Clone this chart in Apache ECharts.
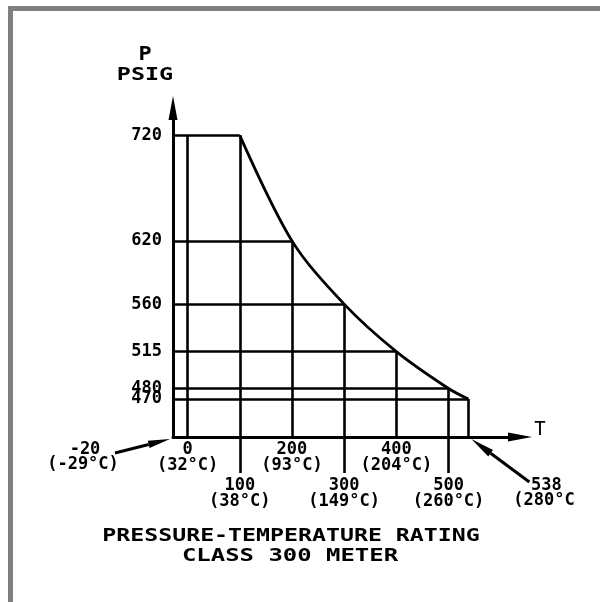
<!DOCTYPE html>
<html><head><meta charset="utf-8">
<script src="https://cdn.jsdelivr.net/npm/echarts@6/dist/echarts.min.js"></script>
<style>html,body{margin:0;padding:0;background:#fff}#c{width:600px;height:602px}</style>
</head><body><div id="c"></div>
<script>
// ---- data ----
const tempF = [0, 100, 200, 300, 400, 500];
const tempC = ['32°C', '38°C', '93°C', '149°C', '204°C', '260°C'];
const ratingT = [100, 200, 300, 400, 500, 538];
const ratingP = [720, 620, 560, 515, 480, 470];
const flatT = [0, 100];           // constant 720 psig region
const minTempF = -20, minTempC = '(-29°C)';
const maxTempF = 538, maxTempC = '(280°C';
const titleLines = ['PRESSURE-TEMPERATURE RATING', 'CLASS 300 METER'];
const yName = ['P', 'PSIG'];
const xName = 'T';

// ---- axis ranges (layout) ----
const X_MIN = -28, X_MAX = 637, Y_MIN = 434, Y_MAX = 746;
const FONT = '"DejaVu Sans Mono", monospace';
const INK = '#000';
const WEIGHT = 'bold';

const evenT = tempF.filter((t, i) => i % 2 === 0);
const oddT = tempF.filter((t, i) => i % 2 === 1);
const evenP = ratingP.filter((p, i) => i % 2 === 0);
const oddP = ratingP.filter((p, i) => i % 2 === 1);

const chart = echarts.init(document.getElementById('c'), null, {renderer: 'canvas'});

const segs = [];
ratingT.forEach((t, i) => {
  segs.push({coords: [[X_MIN, ratingP[i]], [t, ratingP[i]]]});
  segs.push({coords: [[t, Y_MIN], [t, ratingP[i]]]});
});
segs.push({coords: [[flatT[0], Y_MIN], [flatT[0], ratingP[0]]]});

const lab = {fontSize: 17, fontFamily: FONT, fontWeight: WEIGHT, color: INK, lineHeight: 16};
const fmt = (v) => { const i = tempF.indexOf(v); return '{a|' + v + '}\n{a|(' + tempC[i] + ')}'; };
const baseX = {type: 'value', min: X_MIN, max: X_MAX, splitLine: {show: false}, position: 'bottom'};
const baseY = {type: 'value', min: Y_MIN, max: Y_MAX, splitLine: {show: false}, position: 'left', axisTick: {show: false}};
const yLab = {margin: 11, fontSize: 17, fontFamily: FONT, fontWeight: WEIGHT, color: INK, showMinLabel: true, showMaxLabel: true};
chart.setOption({
  animation: false,
  backgroundColor: '#fff',
  grid: {left: 173, right: 80, top: 108, bottom: 165, containLabel: false},
  xAxis: [
    Object.assign({}, baseX, {
      axisLine: {onZero: false, lineStyle: {color: INK, width: 3}, symbol: ['none', 'triangle'], symbolSize: [9, 24]},
      axisTick: {show: false},
      axisLabel: {customValues: evenT, margin: 5, color: INK, showMinLabel: true, showMaxLabel: true,
        formatter: fmt, rich: {a: lab}}
    }),
    Object.assign({}, baseX, {
      axisLine: {show: false, onZero: false},
      axisTick: {show: true, customValues: oddT, length: 36, inside: false, lineStyle: {color: INK, width: 2.6}},
      axisLabel: {customValues: oddT, margin: 41, color: INK, showMinLabel: true, showMaxLabel: true,
        formatter: fmt, rich: {a: lab}}
    })
  ],
  yAxis: [
    Object.assign({}, baseY, {
      axisLine: {onZero: false, lineStyle: {color: INK, width: 3}, symbol: ['none', 'triangle'], symbolSize: [9, 24]},
      axisLabel: Object.assign({customValues: evenP}, yLab)
    }),
    Object.assign({}, baseY, {
      axisLine: {show: false, onZero: false},
      axisLabel: Object.assign({customValues: oddP}, yLab)
    })
  ],
  series: [
    {
      type: 'lines', coordinateSystem: 'cartesian2d', xAxisIndex: 0, yAxisIndex: 0, silent: true, z: 3,
      lineStyle: {color: INK, width: 2.6, opacity: 1, curveness: 0},
      data: segs
    },
    {
      type: 'line', xAxisIndex: 0, yAxisIndex: 0, silent: true, symbol: 'none', smooth: 0.33, z: 4,
      lineStyle: {color: INK, width: 2.8},
      data: ratingT.map((t, i) => [t, ratingP[i]])
    }
  ]
});

const O = chart.convertToPixel({gridIndex: 0}, [X_MIN, Y_MIN]);
const E = chart.convertToPixel({gridIndex: 0}, [maxTempF, Y_MIN]);
const XE = chart.convertToPixel({gridIndex: 0}, [X_MAX, Y_MIN]);
const YE = chart.convertToPixel({gridIndex: 0}, [X_MIN, Y_MAX]);

function arrow(tail, tip, len, hw) {
  const dx = tip[0] - tail[0], dy = tip[1] - tail[1];
  const d = Math.hypot(dx, dy), ux = dx / d, uy = dy / d;
  const bx = tip[0] - ux * len, by = tip[1] - uy * len;
  return [
    {type: 'line', silent: true, shape: {x1: tail[0], y1: tail[1], x2: bx, y2: by}, style: {stroke: INK, lineWidth: 3}},
    {type: 'polygon', silent: true, shape: {points: [tip, [bx - uy * hw, by + ux * hw], [bx + uy * hw, by - ux * hw]]}, style: {fill: INK}}
  ];
}
function txt(x, y, text, opts) {
  return Object.assign({type: 'text', silent: true, x: x, y: y,
    style: Object.assign({text: text, fontSize: 17, fontFamily: FONT, fontWeight: WEIGHT, fill: INK, align: 'center', verticalAlign: 'middle'}, (opts && opts.style) || {})},
    opts && opts.el || {});
}

const g = [
  {type: 'rect', silent: true, shape: {x: 8, y: 6, width: 600, height: 5}, style: {fill: '#808080'}},
  {type: 'rect', silent: true, shape: {x: 8, y: 6, width: 5, height: 600}, style: {fill: '#808080'}},
  ...arrow([O[0] - 58, O[1] + 16], [O[0] - 3, O[1] + 2], 22, 3.8),
  ...arrow([E[0] + 61, E[1] + 45], [E[0] + 3, E[1] + 2], 24, 4),
  txt(O[0] - 88, O[1] + 13, String(minTempF)),
  txt(O[0] - 90, O[1] + 28, minTempC),
  txt(E[0] + 78, E[1] + 49, String(maxTempF)),
  txt(E[0] + 45, E[1] + 64, maxTempC, {style: {align: 'left'}}),
  txt(XE[0] + 20, XE[1] - 7, xName, {style: {fontSize: 19, fontWeight: 'normal'}}),
  txt(YE[0] - 28, YE[1] - 53, yName[0], {style: {fontSize: 19}, el: {scaleX: 1.15}}),
  txt(YE[0] - 28, YE[1] - 33, yName[1], {style: {fontSize: 18}, el: {scaleX: 1.3}}),
  txt(291, 536, titleLines[0], {style: {fontSize: 18}, el: {scaleX: 1.29}}),
  txt(290, 556, titleLines[1], {style: {fontSize: 18}, el: {scaleX: 1.33}})
];
chart.setOption({graphic: g});
</script>
</body></html>
